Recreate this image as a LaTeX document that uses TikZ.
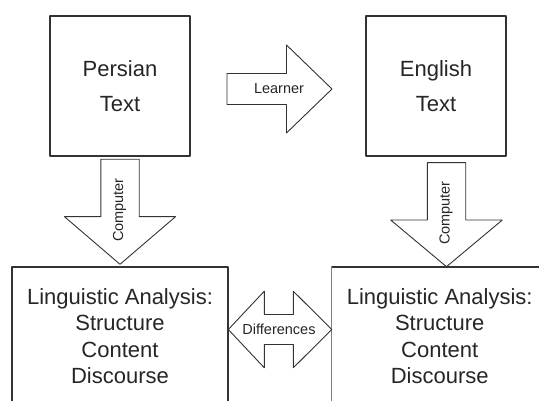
\documentclass[tikz,border=0pt]{standalone}
\usepackage{fontspec}
\setmainfont{Liberation Sans}

\begin{document}
\begin{tikzpicture}[line cap=round,line join=round,x=1pt,y=-1pt,
    textbox/.style={draw=black!80,line width=1.1pt,fill=white,align=center,text=black!85,inner sep=0pt},
    blockarrow/.style={draw=black!80,line width=0.9pt,fill=white},
    arrowlabel/.style={text=black!85,font=\fontsize{14.5}{16}\selectfont,inner sep=0pt}]
  \useasboundingbox (0,0) rectangle (539,401);
  \clip (0,0) rectangle (539,401);

  % Texts
  \node[textbox,minimum width=140pt,minimum height=140pt,font=\fontsize{22}{35.5}\selectfont] (persian) at (120,86) {Persian\\Text};
  \node[textbox,minimum width=140pt,minimum height=140pt,font=\fontsize{22}{35.5}\selectfont] (english) at (436,86) {English\\Text};

  % Analyses (cut off at the bottom)
  \node[textbox,minimum width=216pt,minimum height=138pt,font=\fontsize{22}{26.5}\selectfont] (analysisP) at (120,336) {Linguistic Analysis:\\Structure\\Content\\Discourse};
  \node[textbox,minimum width=216pt,minimum height=138pt,font=\fontsize{22}{26.5}\selectfont] (analysisE) at (439.7,336) {Linguistic Analysis:\\Structure\\Content\\Discourse};
  \draw [color=black!50,line width=1.1pt] (analysisE.north west) -- (analysisE.south west);

  % Learner
  \draw [blockarrow] (227,73.5) -- (286.5,73.5) -- (286.5,45) -- (332,89) -- (286.5,133) -- (286.5,104.5) -- (227,104.5) -- cycle;
  \node[arrowlabel] (learner) at (279,89) {Learner};

  % Computer
  \draw [blockarrow] (100.8,159.3) -- (139.2,159.3) -- (139.2,216.7) -- (175.5,216.7) -- (120,264.3) -- (64.5,216.7) -- (100.8,216.7) -- cycle;
  \node[arrowlabel,rotate=90] (computerP) at (119.5,210) {Computer};
  \draw [blockarrow] (427.3,162.7) -- (465.7,162.7) -- (465.7,220) -- (502.3,220) -- (446.5,266.7) -- (390.7,220) -- (427.3,220) -- cycle;
  \node[arrowlabel,rotate=90] (computerE) at (446,213) {Computer};

  % Differences
  \draw [blockarrow] (228.3,329.5) -- (264.3,291.2) -- (264.3,314.5) -- (293.3,314.5) -- (293.3,291.2) -- (331.7,329.5) -- (293.3,367.8) -- (293.3,344.5) -- (264.3,344.5) -- (264.3,367.8) -- cycle;
  \node[arrowlabel] (differences) at (279,329.5) {Differences};
\end{tikzpicture}
\end{document}
